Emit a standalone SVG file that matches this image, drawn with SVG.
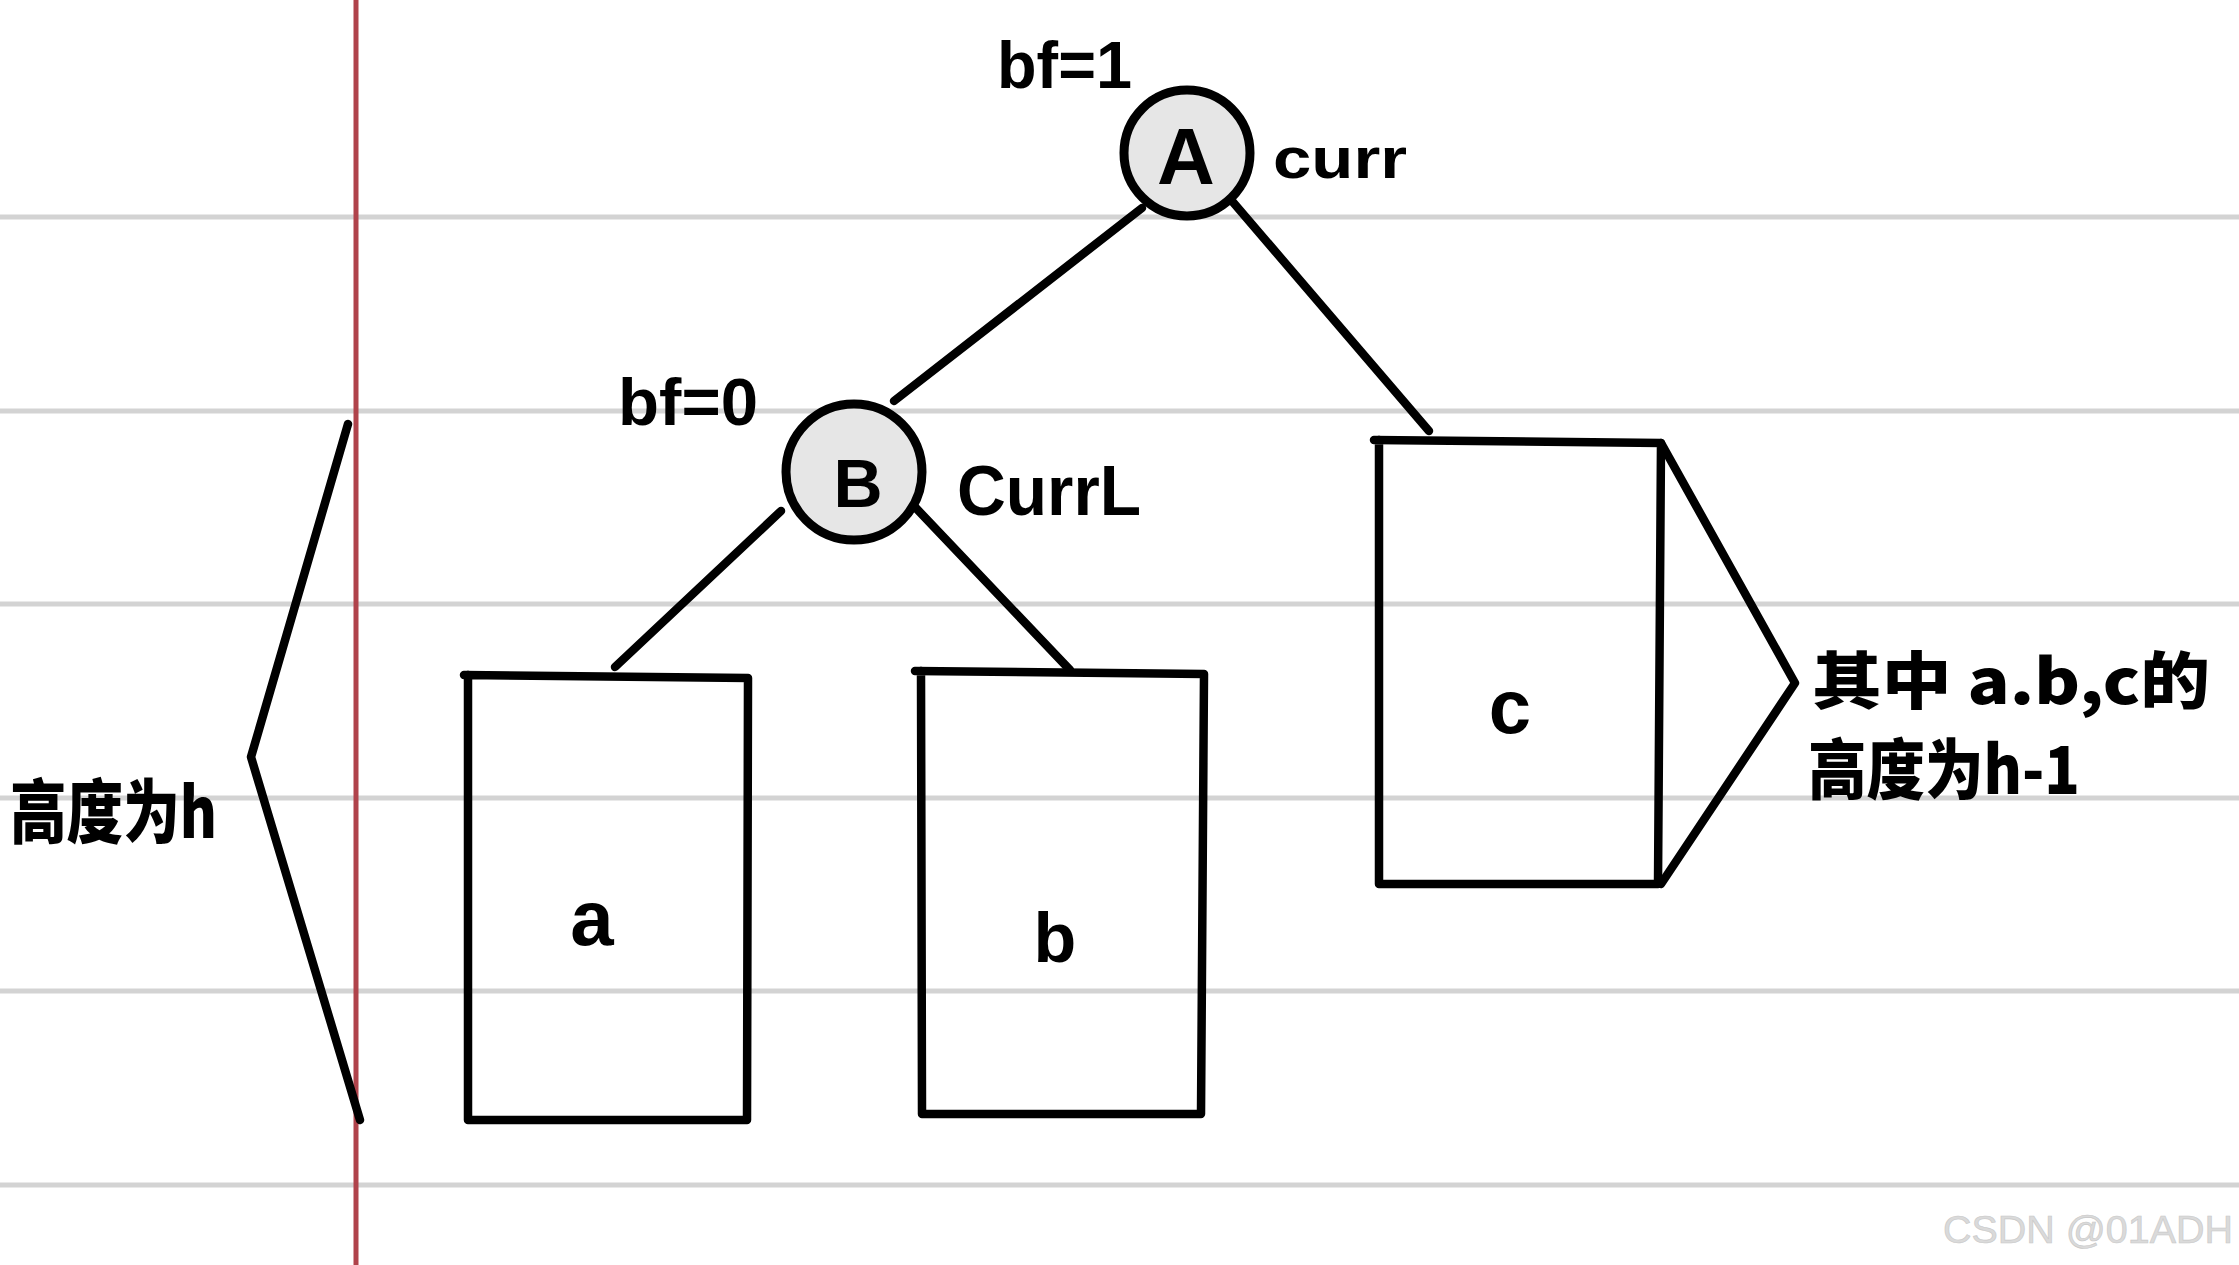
<svg xmlns="http://www.w3.org/2000/svg" width="2239" height="1265" viewBox="0 0 2239 1265">
<style>
.grid{stroke:#d3d3d3;stroke-width:5}
.ink{fill:none;stroke:#000;stroke-width:8.5;stroke-linecap:round;stroke-linejoin:round}
.node{fill:#e6e6e6;stroke:#000;stroke-width:9}
.hand{font-family:"Liberation Sans","Noto Sans CJK SC",sans-serif;font-weight:bold;fill:#000}
.cjk{font-family:"Noto Sans CJK SC","Liberation Sans",sans-serif;font-weight:900;fill:#000}
</style>
<rect width="2239" height="1265" fill="#fff"/>
<g id="paper">
<line class="grid" x1="0" y1="217" x2="2239" y2="217"/>
<line class="grid" x1="0" y1="411" x2="2239" y2="411"/>
<line class="grid" x1="0" y1="604" x2="2239" y2="604"/>
<line class="grid" x1="0" y1="798" x2="2239" y2="798"/>
<line class="grid" x1="0" y1="991" x2="2239" y2="991"/>
<line class="grid" x1="0" y1="1185" x2="2239" y2="1185"/>
<line x1="356" y1="0" x2="356" y2="1265" stroke="#b0434b" stroke-width="5"/>
</g>
<g id="connectors">
<line class="ink" x1="1142" y1="208" x2="894" y2="401"/>
<line class="ink" x1="1232" y1="201" x2="1429" y2="431"/>
<line class="ink" x1="781" y1="511" x2="615" y2="667"/>
<line class="ink" x1="915" y1="507" x2="1070" y2="670"/>
</g>
<g id="nodeA">
<circle class="node" cx="1187" cy="153" r="63"/>
<text class="hand" x="1186" y="184" font-size="80" text-anchor="middle">A</text>
<text class="hand" x="997" y="88" font-size="66" textLength="135" lengthAdjust="spacingAndGlyphs">bf=1</text>
<text class="hand" x="1273" y="178" font-size="58" textLength="134" lengthAdjust="spacingAndGlyphs">curr</text>
</g>
<g id="nodeB">
<circle class="node" cx="854" cy="472" r="68"/>
<text class="hand" x="858" y="507" font-size="68" text-anchor="middle">B</text>
<text class="hand" x="618" y="425" font-size="66" textLength="140" lengthAdjust="spacingAndGlyphs">bf=0</text>
<text class="hand" x="957" y="515" font-size="70" textLength="184" lengthAdjust="spacingAndGlyphs">CurrL</text>
</g>
<g id="subtreeA">
<path class="ink" d="M464 675 L748 678 L747 1120 L468 1120 L468 675"/>
<text class="hand" x="592" y="945" font-size="78" text-anchor="middle">a</text>
</g>
<g id="subtreeB">
<path class="ink" d="M915 671 L1204 674 L1201 1114 L922 1114 L921 671"/>
<text class="hand" x="1055" y="962" font-size="70" text-anchor="middle">b</text>
</g>
<g id="subtreeC">
<path class="ink" d="M1374 440 L1661 443 L1658 884 L1379 884 L1379 440"/>
<text class="hand" x="1510" y="733" font-size="76" text-anchor="middle">c</text>
<path class="ink" d="M1661 443 L1795 683 L1661 884"/>
</g>
<g id="noteRight">
<text class="cjk" x="1812" y="704" font-size="62" textLength="398" lengthAdjust="spacingAndGlyphs">其中 a.b,c的</text>
<text class="cjk" x="1808" y="794" font-size="66" textLength="272" lengthAdjust="spacingAndGlyphs">高度为h-1</text>
</g>
<g id="noteLeft">
<path class="ink" d="M348 424 L251 757 L360 1120"/>
<text class="cjk" x="10" y="838" font-size="70" textLength="207" lengthAdjust="spacingAndGlyphs">高度为h</text>
</g>
<text x="2233" y="1243" font-family="Liberation Sans,sans-serif" font-size="38" fill="#dadada" stroke="#c8c8c8" stroke-width="0.6" text-anchor="end" textLength="290" lengthAdjust="spacingAndGlyphs">CSDN @01ADH</text>
</svg>
